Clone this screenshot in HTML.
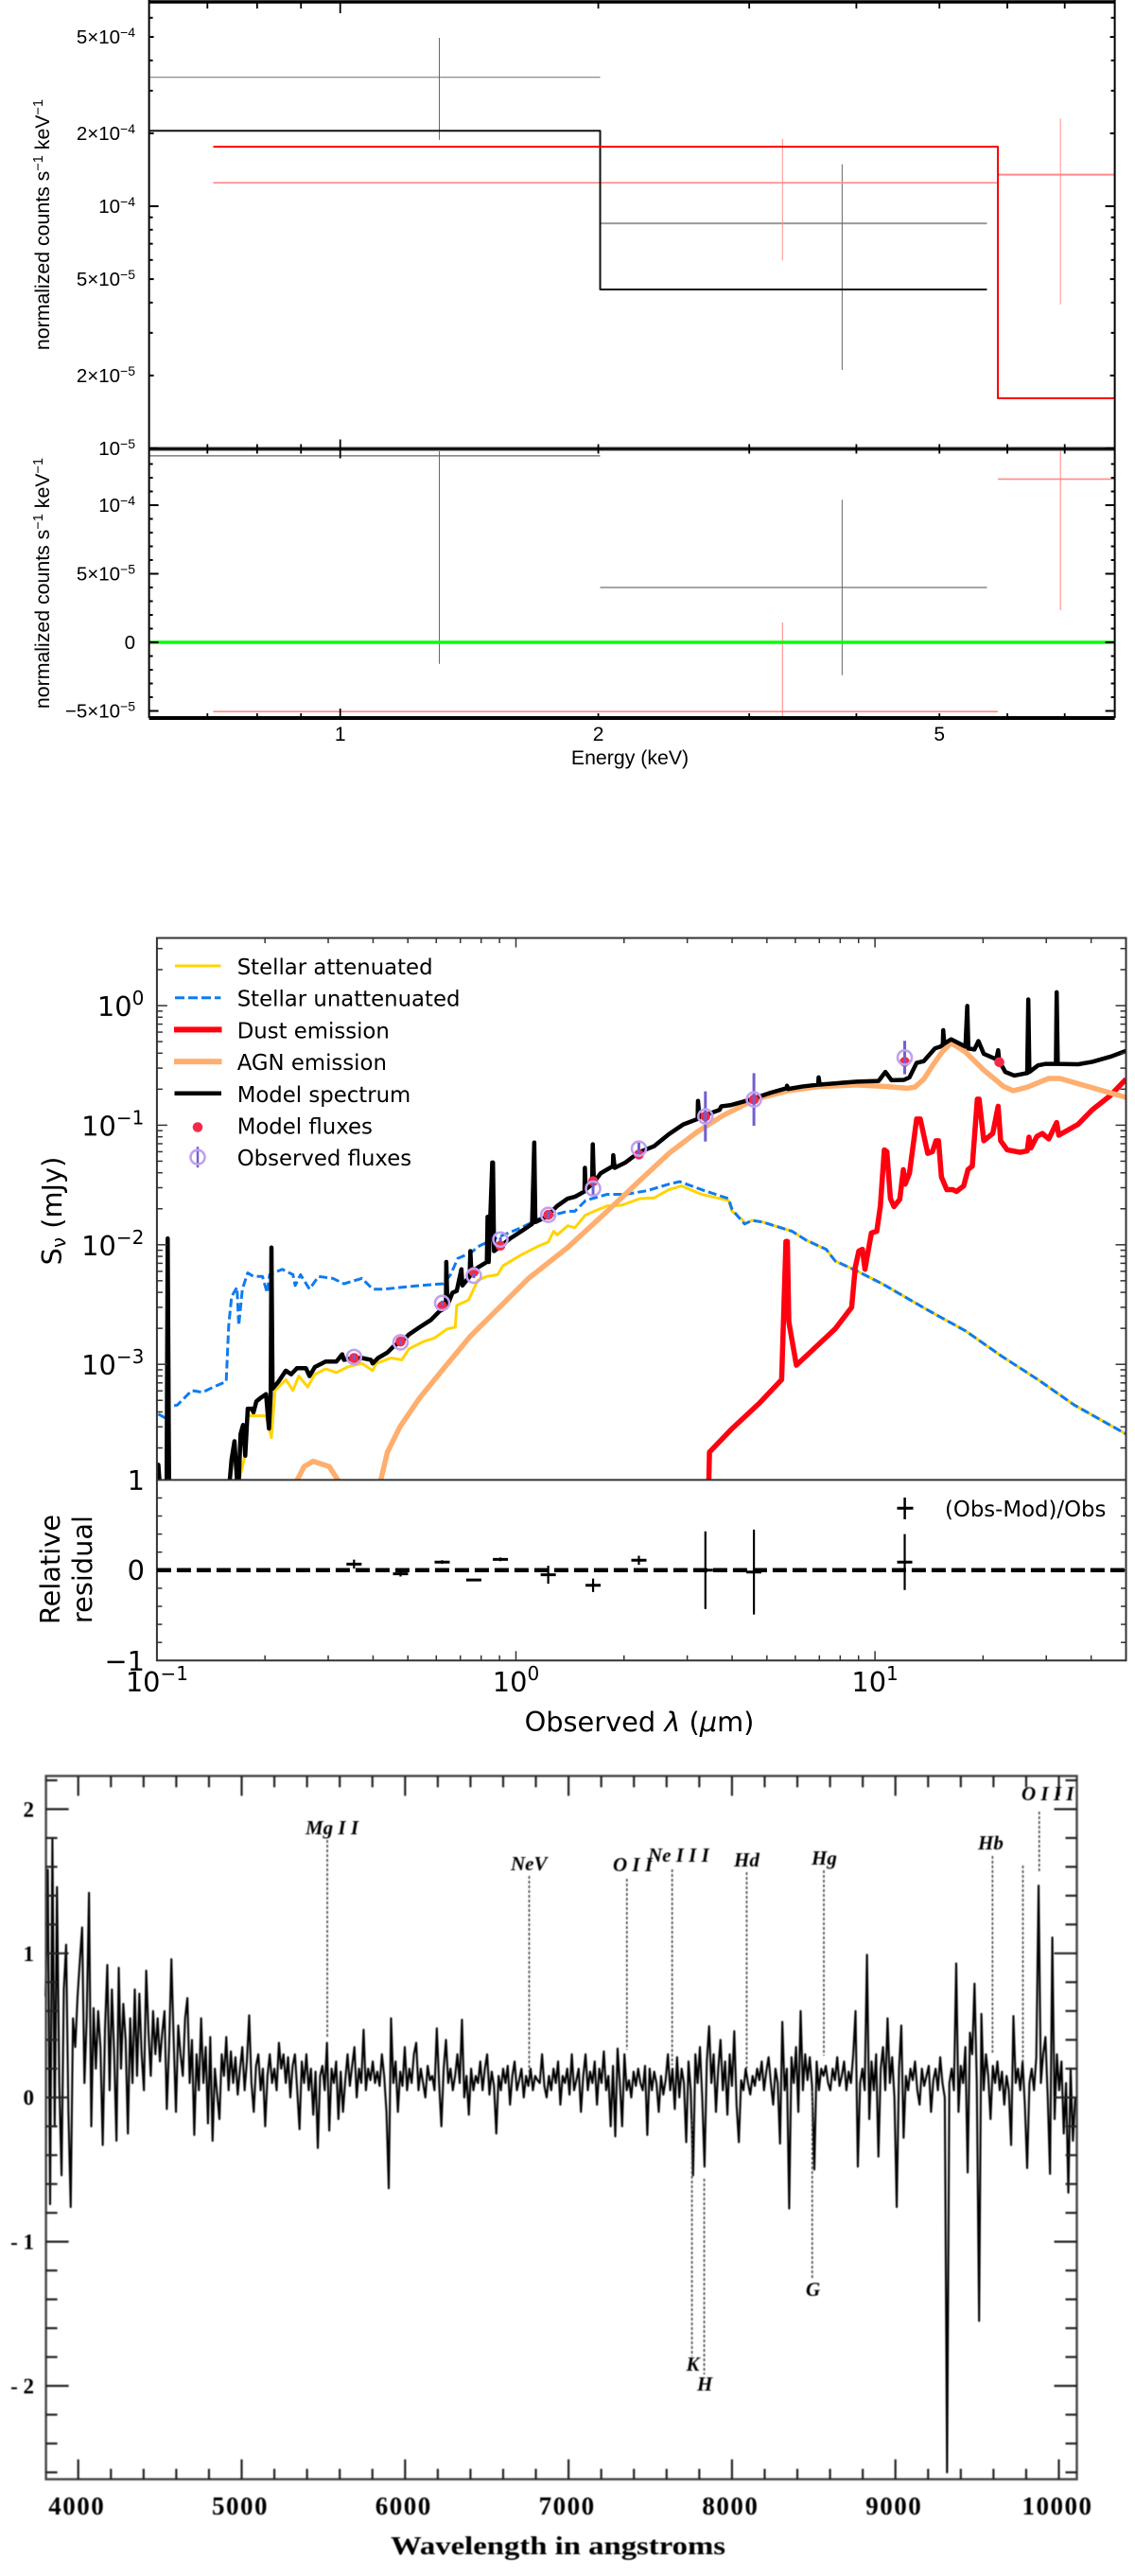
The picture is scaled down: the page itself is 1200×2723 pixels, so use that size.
<!DOCTYPE html>
<html lang="en">
<head>
<meta charset="utf-8">
<title>X-ray, SED and optical spectra</title>
<style>
html,body{margin:0;padding:0;background:#fff;}
svg{display:block;}
#opt{filter:blur(0.45px);}
</style>
</head>
<body>
<svg id="fig" xmlns="http://www.w3.org/2000/svg" width="1200" height="2723" viewBox="0 0 1200 2723">
  <defs>
    <clipPath id="clipXrayTop"><rect x="157.6" y="2" width="1021" height="472.5"/></clipPath>
    <clipPath id="clipXrayBottom"><rect x="157.6" y="474.5" width="1021" height="284.5"/></clipPath>
    <clipPath id="clipSed"><rect x="165.9" y="991.5" width="1024.6" height="572.9"/></clipPath>
    <clipPath id="clipResid"><rect x="165.9" y="1564.4" width="1024.6" height="190.9"/></clipPath>
  </defs>
  <rect x="0" y="0" width="1200" height="2723" fill="#fff"/>
  <g id="xray"></g>
  <g id="sed"></g>
  <g id="opt"></g>
</svg>
<script>
/* ---------- X-ray chart data ---------- */
const xrayMajorTopTicks = [1e-5, 1e-4];
const xrayLabelledTicks = [5e-4, 2e-4, 1e-4, 5e-5, 2e-5, 1e-5];
const xrayLabelledText = [["5×10","−4"],["2×10","−4"],["10","−4"],["5×10","−5"],["2×10","−5"],["10","−5"]];
const xrayMinorTicks = [6e-4, 4e-4, 3e-4, 9e-5, 8e-5, 7e-5, 6e-5, 4e-5, 3e-5];
const energyTicks = [0.7, 0.8, 0.9, 1, 2, 3, 4, 5, 6, 7];
const energyLabels = [1, 2, 5];
const blackBinLo = [0.6, 2.01];
const blackBinHi = [2.01, 5.68];
const blackCentre = [1.305, 3.85];
const blackRate = [3.41e-4, 8.5e-5];
const blackErrLo = [1.88e-4, 2.11e-5];
const blackErrHi = [4.96e-4, 1.49e-4];
const blackModel = [2.05e-4, 4.53e-5];
const redBinLo = [0.711, 5.85];
const redBinHi = [5.85, 8];
const redCentre = [3.28, 6.92];
const redRate = [1.25e-4, 1.35e-4];
const redErrLo = [5.97e-5, 3.93e-5];
const redErrHi = [1.9e-4, 2.3e-4];
const redModel = [1.76e-4, 1.61e-5];
const blackResid = [1.36e-4, 4e-5];
const blackResidLo = [-1.57e-5, -2.4e-5];
const blackResidHi = [2.9e-4, 1.04e-4];
const redResid = [-5.05e-5, 1.19e-4];
const redResidLo = [-1.15e-4, 2.35e-5];
const redResidHi = [1.45e-5, 2.1e-4];
const residMajorTicks = [1e-4, 5e-5, 0, -5e-5];
const residLabels = [["10","−4"],["5×10","−5"],["0",""],["−5×10","−5"]];
const residMinorTicks = [1.3e-4,1.2e-4,1.1e-4,9e-5,8e-5,7e-5,6e-5,4e-5,3e-5,2e-5,1e-5,-1e-5,-2e-5,-3e-5,-4e-5];

/* ---------- SED chart data (log10 wavelength in um, log10 flux in mJy) ---------- */
const modelLogWave = [-1.1,-0.996,-0.99,-0.973,-0.970,-0.966,-0.80,-.797,-.792,-.784,-.777,-.772,-.767,-.760,-.754,-.747,-.736,-.731,-.723,-.711,-.696,-.688,-.683,-.681,-.678,-.661,-.641,-.626,-.610,-.585,-.575,-.560,-.530,-.500,-.484,-.479,-.449,-.429,-.404,-.399,-.384,-.358,-.338,-.318,-.298,-.268,-.237,-.212,-.202,-.195,-.194,-.191,-.177,-.165,-.152,-.149,-.129,-.127,-.124,-.106,-.081,-.079,-.076,-.066,-.064,-.061,-.041,-.016,.015,.045,.051,.054,.085,.115,.144,.164,.191,.192,.194,.212,.214,.217,.236,.270,.271,.275,.305,.343,.385,.426,.466,.506,.507,.511,.567,.572,.597,.648,.708,.754,.755,.758,.799,.842,.843,.846,.910,.950,1.010,1.029,1.046,1.081,1.096,1.116,1.136,1.167,1.182,1.189,1.190,1.193,1.212,1.252,1.257,1.260,1.277,1.288,1.303,1.338,1.343,1.346,1.363,1.388,1.424,1.427,1.430,1.454,1.474,1.504,1.506,1.509,1.565,1.605,1.656,1.699];
const modelLogFlux = [-4.1,-3.84,-4.1,-4.1,-1.947,-4.1,-4.1,-3.967,-3.794,-3.643,-3.967,-3.976,-3.583,-3.507,-3.764,-3.371,-3.371,-3.401,-3.310,-3.280,-3.249,-3.537,-3.249,-2.023,-3.204,-3.143,-3.053,-3.083,-3.032,-3.032,-3.098,-3.022,-2.977,-2.977,-2.916,-2.962,-2.947,-2.947,-2.962,-2.992,-2.947,-2.901,-2.841,-2.810,-2.750,-2.689,-2.629,-2.553,-2.538,-2.508,-2.144,-2.508,-2.402,-2.386,-2.205,-2.341,-2.265,-2.053,-2.235,-2.190,-2.144,-1.766,-2.144,-1.312,-1.312,-2.053,-2.008,-1.947,-1.887,-1.826,-1.145,-1.811,-1.766,-1.675,-1.614,-1.599,-1.554,-1.357,-1.539,-1.493,-1.160,-1.478,-1.402,-1.342,-1.251,-1.357,-1.312,-1.227,-1.175,-1.075,-.994,-.948,-.797,-.933,-.872,-.842,-.833,-.791,-.730,-.691,-.670,-.697,-.676,-.661,-.600,-.661,-.645,-.636,-.630,-.555,-.624,-.621,-.600,-.479,-.464,-.358,-.343,-.328,-.206,-.318,-.282,-.343,-.003,-.358,-.367,-.297,-.403,-.449,-.373,-.464,-.555,-.585,-.564,.051,-.555,-.500,-.488,-.488,.112,-.488,-.491,-.470,-.427,-.379];
const attenLogWave = [-.797,-.782,-.770,-.757,-.747,-.696,-.681,-.671,-.641,-.621,-.605,-.580,-.560,-.530,-.500,-.469,-.429,-.399,-.389,-.348,-.318,-.298,-.258,-.227,-.192,-.169,-.165,-.132,-.106,-.081,-.051,-.036,.015,.065,.090,.105,.115,.144,.164,.194,.254,.295,.345,.385,.426,.461,.517,.592,.602,.632,.637,.658,.688,.769,.809,.864,.889,.950,1.020,1.151,1.252,1.353,1.454,1.555,1.699];
const attenLogFlux = [-3.967,-3.703,-3.961,-3.795,-3.431,-3.431,-3.613,-3.219,-3.128,-3.219,-3.098,-3.189,-3.083,-3.038,-3.068,-3.022,-2.992,-3.053,-2.992,-2.947,-2.962,-2.871,-2.810,-2.780,-2.705,-2.689,-2.508,-2.462,-2.296,-2.265,-2.250,-2.175,-2.084,-2.008,-1.978,-1.887,-1.917,-1.841,-1.857,-1.750,-1.675,-1.669,-1.614,-1.608,-1.539,-1.508,-1.578,-1.630,-1.720,-1.796,-1.826,-1.796,-1.811,-1.887,-1.963,-2.038,-2.135,-2.220,-2.326,-2.553,-2.720,-2.932,-3.128,-3.340,-3.582];
const unattenLogWave = [-.996,-.978,-.968,-.943,-.923,-.903,-.873,-.842,-.807,-.800,-.792,-.777,-.772,-.762,-.747,-.731,-.706,-.693,-.686,-.651,-.621,-.615,-.600,-.575,-.550,-.510,-.479,-.429,-.399,-.368,-.318,-.268,-.202,-.182,-.162,-.127,-.101,-.046,.015,.065,.144,.164,.194,.254,.305,.365,.426,.456,.517,.592,.602,.632,.637,.658,.688,.769,.809,.864,.889,.950,1.020,1.151,1.252,1.353,1.454,1.555,1.699];
const unattenLogFlux = [-3.416,-3.446,-3.356,-3.340,-3.280,-3.219,-3.234,-3.189,-3.144,-2.674,-2.432,-2.356,-2.674,-2.371,-2.235,-2.265,-2.265,-2.402,-2.250,-2.205,-2.250,-2.341,-2.250,-2.371,-2.265,-2.281,-2.326,-2.281,-2.371,-2.371,-2.356,-2.341,-2.326,-2.250,-2.114,-2.069,-2.008,-1.932,-1.857,-1.781,-1.720,-1.720,-1.630,-1.578,-1.578,-1.548,-1.493,-1.472,-1.539,-1.614,-1.705,-1.811,-1.826,-1.796,-1.811,-1.887,-1.963,-2.038,-2.135,-2.220,-2.326,-2.553,-2.720,-2.932,-3.128,-3.340,-3.582];
const dustLogWave = [.537,.539,.602,.678,.740,.752,.756,.760,.781,.889,.935,.945,.955,.965,.972,.990,1.005,1.015,1.026,1.033,1.043,1.053,1.069,1.079,1.084,1.096,1.116,1.126,1.147,1.160,1.170,1.177,1.185,1.200,1.217,1.227,1.247,1.259,1.271,1.285,1.290,1.303,1.328,1.343,1.350,1.368,1.404,1.424,1.429,1.434,1.451,1.466,1.484,1.506,1.512,1.565,1.605,1.656,1.699];
const dustLogFlux = [-4.0,-3.734,-3.537,-3.325,-3.128,-1.972,-1.972,-2.644,-3.007,-2.704,-2.523,-2.190,-2.053,-2.038,-2.205,-1.902,-1.887,-1.675,-1.206,-1.221,-1.614,-1.681,-1.620,-1.372,-1.493,-1.402,-.948,-.948,-1.236,-1.221,-1.130,-1.130,-1.433,-1.539,-1.539,-1.554,-1.508,-1.372,-1.342,-.782,-.782,-1.130,-1.069,-.842,-1.130,-1.206,-1.227,-1.215,-1.100,-1.191,-1.094,-1.069,-1.115,-.978,-1.084,-.994,-.872,-.751,-.615];
const agnLogWave = [-.615,-.590,-.565,-.520,-.489,-.379,-.358,-.323,-.268,-.202,-.127,-.046,.035,.144,.254,.345,.426,.506,.577,.668,.758,.849,.950,1.031,1.091,1.111,1.136,1.162,1.187,1.212,1.252,1.303,1.358,1.385,1.424,1.484,1.515,1.575,1.699];
const agnLogFlux = [-4.0,-3.855,-3.810,-3.855,-4.0,-4.0,-3.734,-3.522,-3.280,-3.037,-2.765,-2.523,-2.281,-2.023,-1.720,-1.463,-1.236,-1.054,-.918,-.782,-.712,-.676,-.664,-.676,-.691,-.682,-.615,-.494,-.388,-.312,-.388,-.539,-.676,-.712,-.682,-.609,-.609,-.661,-.767];
const filterWave = [0.354,0.477,0.623,0.763,0.905,1.23,1.64,2.2,3.37,4.6,12.1,22.2];
const modelFluxLog = [-2.947,-2.810,-2.514,-2.226,-2.008,-1.750,-1.469,-1.245,-.927,-.785,-.470,-.473];
const obsFluxLog = [-2.938,-2.816,-2.487,-2.259,-1.956,-1.750,-1.530,-1.196,-.927,-.785,-.434];
const obsErrLog = [.02,.02,.02,.02,.02,.03,.06,.06,.21,.22,.14];
const residValues = [0.067,-0.04,0.09,-0.108,0.12,-0.05,-0.167,0.11,0,-0.02,0.09];
const residErrors = [0.05,0.03,0.02,0.01,0.02,0.1,0.075,0.05,0.43,0.47,0.31];
const sedDecades = [0,-1,-2,-3];
const sedLegendNames = ["Stellar attenuated","Stellar unattenuated","Dust emission","AGN emission","Model spectrum","Model fluxes","Observed fluxes"];

/* ---------- Optical spectrum data ---------- */
const specStart = 3800;
const specStep = 14;
const specFlux = [
.7,1.58,-.74,1.8,-.2,1.46,.1,-.54,.75,1.06,-.1,-.76,.55,.35,.7,.95,1.18,.1,.55,1.42,
-.2,.62,.2,.6,.35,-.33,.48,.92,.05,.75,.3,-.3,.9,.2,.65,.4,-.25,.55,.1,.75,
.15,.72,.3,.05,.88,.45,.15,.6,.3,.55,.25,.45,.6,-.08,.35,.96,.4,-.1,.5,.3,
.15,.55,.69,.1,.4,-.26,.3,.05,.55,.1,.35,-.18,.42,-.3,.2,.02,-.15,.3,.15,.42,
.05,.32,.1,.28,.02,.2,.35,.05,.25,.57,.1,-.1,.22,.3,.05,.2,-.2,.15,.3,.1,
.2,.05,.38,.2,.3,.1,.28,0,.22,.3,.05,-.22,.25,.1,.3,.05,.2,-.12,.18,-.35,
.15,.22,.05,.38,-.23,.2,.1,.25,-.15,.18,-.1,.12,.3,.08,.22,.35,0,.2,.1,.47,
.05,.2,.12,.25,.1,.18,.08,.3,.15,-.1,-.63,.55,.1,.25,-.1,.18,.08,.35,.05,.2,
.1,.3,.38,.05,.2,.1,0,.22,.12,.15,.05,.48,.1,-.2,.2,.4,.1,.2,.05,.15,
.3,.1,.54,0,.15,-.12,.2,.05,.15,.1,.25,.05,.2,.3,.02,.18,.08,-.25,.15,.05,
.2,.1,.22,-.05,.15,.25,.05,.12,.2,0,.15,.08,.2,.05,.15,.12,.1,.3,.08,0,
.15,.05,.2,.1,.25,-.05,.15,.1,.2,.02,.3,.05,.12,.2,-.1,.15,.3,.05,.18,.1,
.25,-.05,.2,.1,.32,.05,.15,-.2,.22,-.27,.34,.1,-.2,.3,.05,.12,0,.18,.08,.2,
.1,.05,.22,-.26,.2,.05,.18,.1,-.1,.15,.02,.12,.3,.05,.2,-.08,.28,0,.2,.1,
-.31,.25,.05,-.54,.3,.1,.35,0,-.48,.25,.495,.1,.3,-.1,.2,.4,.05,.25,-.12,.3,
.08,.46,-.05,-.31,.12,.05,.2,.1,.02,.15,.08,.2,.12,.25,.05,.18,.28,.1,-.05,.2,
.1,-.32,.525,.05,.2,-.77,.28,.1,.35,-.1,.6,.05,.3,.12,.28,.08,-.5,.25,.05,.2,
.15,.22,.1,.05,.2,.12,.28,.08,.15,.25,.05,.18,.1,.3,.6,-.48,.1,.2,.05,.99,
-.15,.25,.05,.3,-.41,.2,.35,.05,.55,.1,.28,0,-.76,.2,.5,-.28,.15,.05,.2,.12,
.25,.05,-.05,.2,.08,.15,.22,-.1,.12,.2,.05,.28,.1,0,-2.6,.1,.2,.05,.93,-.1,
.22,.1,.35,-.52,.45,.3,.79,.1,-1.55,.58,.05,.3,.15,-.15,.22,.1,.25,.05,.18,-.05,
.15,.05,-.33,.565,.1,.2,.05,.25,-.05,-.49,.1,.2,.05,.28,1.47,.1,.3,.42,0,-.53,
1.11,-.15,.3,.05,.25,-.25,.1,-.66,.2,-.3,0];
const optXMajor = [4000,5000,6000,7000,8000,9000,10000];
const optXMinor = [4200,4400,4600,4800,5200,5400,5600,5800,6200,6400,6600,6800,7200,7400,7600,7800,8200,8400,8600,8800,9200,9400,9600,9800];
const optYMajor = [2,1,0,-1,-2];
const optYMinor = [2.2,1.8,1.6,1.4,1.2,.8,.6,.4,.2,-.2,-.4,-.6,-.8,-1.2,-1.4,-1.6,-1.8,-2.2,-2.4,-2.6];
const lineNames = ["Mg II","Ne V","O II","Ne III","Hd","Hg","Hb","","O III","G","K","H"];
const lineWave = [5524,6759,7357,7634,8090,8562,9594,9780,9880,8491,7755,7830];
const lineTop = [1.786,1.537,1.517,1.583,1.563,1.576,1.675,1.609,1.983,.047,-.15,-.563];
const lineBottom = [.419,.159,.331,.224,.2,.29,.31,.244,1.563,-1.265,-1.795,-1.921];

/* ---------- drawing helpers ---------- */
const NS = "http://www.w3.org/2000/svg";
function seg(g, x1, y1, x2, y2, stroke, w, name, dash) {
  const el = document.createElementNS(NS, "line");
  el.setAttribute("x1", x1); el.setAttribute("y1", y1);
  el.setAttribute("x2", x2); el.setAttribute("y2", y2);
  el.setAttribute("stroke", stroke); el.setAttribute("stroke-width", w);
  if (dash) el.setAttribute("stroke-dasharray", dash);
  
  
  g.appendChild(el);
  return el;
}
function poly(g, xs, ys, stroke, w, name, dash, clip) {
  const el = document.createElementNS(NS, "polyline");
  el.setAttribute("points", xs.map((x, i) => x.toFixed(2) + "," + ys[i].toFixed(2)).join(" "));
  el.setAttribute("fill", "none");
  el.setAttribute("stroke", stroke); el.setAttribute("stroke-width", w);
  el.setAttribute("stroke-linejoin", "round");
  if (dash) el.setAttribute("stroke-dasharray", dash);
  if (clip) el.setAttribute("clip-path", "url(#" + clip + ")");
  
  
  g.appendChild(el);
  return el;
}
function txt(g, x, y, str, o, name, sup) {
  const el = document.createElementNS(NS, "text");
  el.setAttribute("x", x); el.setAttribute("y", y);
  el.setAttribute("font-family", o.family);
  el.setAttribute("font-size", o.size);
  el.setAttribute("fill", o.fill || "#000");
  el.setAttribute("text-anchor", o.anchor || "middle");
  if (o.weight) el.setAttribute("font-weight", o.weight);
  if (o.fstyle) el.setAttribute("font-style", o.fstyle);
  if (o.rotate) el.setAttribute("transform", "rotate(-90 " + x + " " + y + ")");
  if (o.spacing) el.setAttribute("letter-spacing", o.spacing);
  if (o.fit) { el.setAttribute("textLength", o.fit); el.setAttribute("lengthAdjust", "spacingAndGlyphs"); }
  el.appendChild(document.createTextNode(str));
  if (sup) {
    const t = document.createElementNS(NS, "tspan");
    t.setAttribute("font-size", o.supSize);
    t.setAttribute("dy", o.supDy);
    t.textContent = sup;
    el.appendChild(t);
  }
  
  
  g.appendChild(el);
  return el;
}
function dot(g, x, y, r, fill, stroke, w, name) {
  const el = document.createElementNS(NS, "circle");
  el.setAttribute("cx", x); el.setAttribute("cy", y); el.setAttribute("r", r);
  el.setAttribute("fill", fill);
  if (stroke) { el.setAttribute("stroke", stroke); el.setAttribute("stroke-width", w); }
  
  
  g.appendChild(el);
  return el;
}

/* ---------- X-ray panel ---------- */
(function () {
  const g = document.getElementById("xray");
  const L = 157.6, R = 1178.6, T = 2, M = 474.5, B = 759;
  const xE = e => 359.7 + 906.4 * Math.log10(e);
  const yT = v => 218 - 256 * Math.log10(v / 1e-4);
  const yB = v => 679 - 1.45e6 * v;
  const SANS = '"Liberation Sans", sans-serif';
  const TICK = {family: SANS, size: 20.5, anchor: "end", supSize: 14, supDy: -7};

  const gTop = document.createElementNS(NS, "g");
  gTop.setAttribute("clip-path", "url(#clipXrayTop)");
  
  
  g.appendChild(gTop);
  const gBot = document.createElementNS(NS, "g");
  gBot.setAttribute("clip-path", "url(#clipXrayBottom)");
  
  
  g.appendChild(gBot);

  blackRate.forEach((v, i) => {
    seg(gTop, xE(blackBinLo[i]), yT(v), xE(blackBinHi[i]), yT(v), "#999", i ? 2 : 1.6, "black-data-bin");
    seg(gTop, xE(blackCentre[i]), yT(blackErrLo[i]), xE(blackCentre[i]), yT(blackErrHi[i]), "#666", 1, "black-data-error");
    seg(gBot, xE(blackBinLo[i]), yB(blackResid[i]), xE(blackBinHi[i]), yB(blackResid[i]), "#888", 1.6, "black-residual-bin");
    seg(gBot, xE(blackCentre[i]), yB(blackResidLo[i]), xE(blackCentre[i]), yB(blackResidHi[i]), "#666", 1, "black-residual-error");
  });
  redRate.forEach((v, i) => {
    seg(gTop, xE(redBinLo[i]), yT(v), xE(redBinHi[i]), yT(v), "#ff8a8a", i ? 2 : 1.6, "red-data-bin");
    seg(gTop, xE(redCentre[i]), yT(redErrLo[i]), xE(redCentre[i]), yT(redErrHi[i]), "#ff9090", 1, "red-data-error");
    seg(gBot, xE(redBinLo[i]), yB(redResid[i]), xE(redBinHi[i]), yB(redResid[i]), "#ff8a8a", 1.6, "red-residual-bin");
    seg(gBot, xE(redCentre[i]), yB(redResidLo[i]), xE(redCentre[i]), yB(redResidHi[i]), "#ff8080", 1, "red-residual-error");
  });
  poly(gTop, [xE(blackBinLo[0]), xE(blackBinHi[0]), xE(blackBinHi[0]), xE(blackBinHi[1])],
       [yT(blackModel[0]), yT(blackModel[0]), yT(blackModel[1]), yT(blackModel[1])], "#111", 2, "black-model-step");
  poly(gTop, [xE(redBinLo[0]), xE(redBinHi[0]), xE(redBinHi[0]), xE(redBinHi[1])],
       [yT(redModel[0]), yT(redModel[0]), yT(redModel[1]), yT(redModel[1])], "#ff0000", 2, "red-model-step");
  seg(gBot, L, yB(0), R, yB(0), "#00ff00", 3.5, "zero-line");

  /* frame */
  seg(g, L, T, R, T, "#000", 3.5, "xray-top-border");
  seg(g, L, M, R, M, "#999", 5, "xray-divider-halo");
  seg(g, L, M, R, M, "#000", 2.5, "xray-divider");
  seg(g, L, B, R, B, "#000", 4, "xray-bottom-border");
  seg(g, L, 0, L, B, "#000", 2, "xray-left-border");
  seg(g, R, 0, R, B, "#000", 2, "xray-right-border");

  /* x ticks */
  energyTicks.forEach(e => {
    const len = e === 1 ? 10 : 5, x = xE(e);
    seg(g, x, T, x, T + len + 2, "#000", 1.8, "energy-tick-top");
    seg(g, x, M, x, M - len, "#000", 1.8, "energy-tick-mid-up");
    seg(g, x, M, x, M + len, "#000", 1.8, "energy-tick-mid-down");
    seg(g, x, B, x, B - len, "#000", 1.8, "energy-tick-bottom");
  });
  energyLabels.forEach(e => {
    txt(g, xE(e), 783, String(e), {family: SANS, size: 21}, "energy-tick-label");
  });
  txt(g, 666, 808, "Energy (keV)", {family: SANS, size: 21.3}, "x-axis-title");

  /* upper y ticks */
  xrayLabelledTicks.forEach((v, i) => {
    const y = yT(v), len = xrayMajorTopTicks.includes(v) ? 10 : 5;
    seg(g, L, y, L + len, y, "#000", 2, "upper-y-tick");
    seg(g, R, y, R - len, y, "#000", 2, "upper-y-tick-right");
    txt(g, 143, y + 7, xrayLabelledText[i][0], TICK, "upper-y-tick-label", xrayLabelledText[i][1]);
  });
  xrayMinorTicks.forEach(v => {
    const y = yT(v);
    seg(g, L, y, L + 4, y, "#000", 2, "upper-y-minor-tick");
    seg(g, R, y, R - 4, y, "#000", 2, "upper-y-minor-tick-right");
  });
  /* lower y ticks */
  residMajorTicks.forEach((v, i) => {
    const y = yB(v);
    seg(g, L, y, L + 10, y, "#000", 2, "lower-y-tick");
    seg(g, R, y, R - 10, y, "#000", 2, "lower-y-tick-right");
    txt(g, 143, y + 7, residLabels[i][0], TICK, "lower-y-tick-label", residLabels[i][1]);
  });
  residMinorTicks.forEach(v => {
    const y = yB(v);
    seg(g, L, y, L + 4, y, "#000", 2, "lower-y-minor-tick");
    seg(g, R, y, R - 4, y, "#000", 2, "lower-y-minor-tick-right");
  });

  /* y titles */
  [237.5, 616.5].forEach((yc, i) => {
    const t = txt(g, 52, yc, "normalized counts s", {family: SANS, size: 21.3, rotate: true}, i ? "lower-y-axis-title" : "upper-y-axis-title");
    const a = document.createElementNS(NS, "tspan");
    a.setAttribute("font-size", 14.5); a.setAttribute("dy", -7); a.textContent = "−1";
    t.appendChild(a);
    const b = document.createElementNS(NS, "tspan");
    b.setAttribute("dy", 7); b.textContent = " keV";
    t.appendChild(b);
    const c = document.createElementNS(NS, "tspan");
    c.setAttribute("font-size", 14.5); c.setAttribute("dy", -7); c.textContent = "−1";
    t.appendChild(c);
  });
})();

/* ---------- SED panel ---------- */
(function () {
  const g = document.getElementById("sed");
  const L = 165.9, R = 1190.5, T = 991.5, M = 1564.4, B = 1755.3;
  const xL = l => 165.9 + 379.6 * (l + 1);
  const xW = w => xL(Math.log10(w));
  const yS = s => 1063 - 126.4 * s;
  const yR = v => 1659.8 - 95.45 * v;
  const DJ = '"DejaVu Sans", sans-serif';
  const COL = {yellow: "#ffd400", blue: "#0f7bf0", red: "#ff0010", orange: "#ffae6e", black: "#000"};

  poly(g, attenLogWave.map(xL), attenLogFlux.map(yS), COL.yellow, 3, "stellar-attenuated-line", null, "clipSed");
  poly(g, unattenLogWave.map(xL), unattenLogFlux.map(yS), COL.blue, 3, "stellar-unattenuated-line", "9 4", "clipSed");
  poly(g, dustLogWave.map(xL), dustLogFlux.map(yS), COL.red, 5.5, "dust-emission-line", null, "clipSed");
  poly(g, agnLogWave.map(xL), agnLogFlux.map(yS), COL.orange, 5.5, "agn-emission-line", null, "clipSed");
  poly(g, modelLogWave.map(xL), modelLogFlux.map(yS), COL.black, 4.5, "model-spectrum-line", null, "clipSed");

  modelFluxLog.forEach((s, i) => {
    dot(g, xW(filterWave[i]), yS(s), 5.3, "#f52a4a", null, 0, "model-flux-point");
  });
  obsFluxLog.forEach((s, i) => {
    const x = xW(filterWave[i]);
    seg(g, x, yS(s + obsErrLog[i]), x, yS(s - obsErrLog[i]), "#7060d0", 3, "observed-flux-error");
    dot(g, x, yS(s), 7.5, "none", "#c0a0f0", 2.6, "observed-flux-point");
  });

  /* frames */
  const frame = document.createElementNS(NS, "path");
  frame.setAttribute("d", `M${L} ${T}H${R}V${B}H${L}Z M${L} ${M}H${R}`);
  frame.setAttribute("fill", "none");
  frame.setAttribute("stroke", "#333");
  frame.setAttribute("stroke-width", 2);
  
  
  g.appendChild(frame);

  /* x ticks */
  for (const dec of [-1, 0, 1]) {
    for (let m = 1; m < 10; m++) {
      const x = xL(dec + Math.log10(m));
      if (x > R) continue;
      const len = m === 1 ? 10 : 5.5;
      if (dec > -1 || m > 1) {
        seg(g, x, T, x, T + len, "#333", 1.5, "sed-x-tick-top");
        seg(g, x, B, x, B - len, "#333", 1.5, "sed-x-tick-bottom");
      }
    }
    txt(g, xL(dec), 1788, "10", {family: DJ, size: 28.8, supSize: 20, supDy: -12}, "sed-x-tick-label", dec === -1 ? "−1" : String(dec));
  }
  /* y ticks */
  for (let dec = -4; dec <= 0; dec++) {
    for (let m = 1; m < 10; m++) {
      const s = dec + Math.log10(m);
      const y = yS(s);
      if (y < T || y > M - 1) continue;
      const len = m === 1 ? 11 : 6;
      seg(g, L, y, L + len, y, "#333", 1.5, "sed-y-tick");
      seg(g, R, y, R - len, y, "#333", 1.5, "sed-y-tick-right");
    }
  }
  sedDecades.forEach(d => {
    txt(g, 152.3, yS(d) + 11, "10", {family: DJ, size: 28.8, anchor: "end", supSize: 20, supDy: -12}, "sed-y-tick-label", d === 0 ? "0" : "−" + (-d));
  });
  const LEFTP = {family: DJ, size: 28.8, anchor: "end"};
  txt(g, 153, 1575, "1", LEFTP, "residual-y-tick-label");
  txt(g, 153, 1670, "0", LEFTP, "residual-y-tick-label");
  txt(g, 153, 1766, "−1", LEFTP, "residual-y-tick-label");
  for (let k = -4; k <= 4; k++) {
    const y = yR(k * 0.2);
    const len = 5.5;
    seg(g, L, y, L + len, y, "#333", 1.5, "residual-y-tick");
    seg(g, R, y, R - len, y, "#333", 1.5, "residual-y-tick-right");
  }

  /* titles */
  const st = txt(g, 65, 1280, "S", {family: DJ, size: 28.8, rotate: true}, "sed-y-axis-title");
  const sub = document.createElementNS(NS, "tspan");
  sub.setAttribute("font-size", 20); sub.setAttribute("dy", 4); sub.textContent = "ν";
  st.appendChild(sub);
  const rest = document.createElementNS(NS, "tspan");
  rest.setAttribute("dy", -4); rest.textContent = " (mJy)";
  st.appendChild(rest);
  txt(g, 63, 1659, "Relative", {family: DJ, size: 28.8, rotate: true}, "residual-y-title-line-1");
  txt(g, 97, 1659, "residual", {family: DJ, size: 28.8, rotate: true}, "residual-y-title-line-2");
  const xt = txt(g, 676, 1830, "Observed ", {family: DJ, size: 28.8}, "sed-x-axis-title");
  const la = document.createElementNS(NS, "tspan");
  la.setAttribute("font-style", "italic"); la.textContent = "λ";
  xt.appendChild(la);
  xt.appendChild(document.createTextNode(" ("));
  const mu = document.createElementNS(NS, "tspan");
  mu.setAttribute("font-style", "italic"); mu.textContent = "μ";
  xt.appendChild(mu);
  xt.appendChild(document.createTextNode("m)"));

  /* legend */
  const ly = i => 1021 + 33.7 * i;
  const LEG = {family: DJ, size: 22.8, anchor: "start"};
  sedLegendNames.forEach((n, i) => {
    txt(g, 250.7, ly(i) + 9, n, LEG, "legend-label");
  });
  seg(g, 185, ly(0), 233.4, ly(0), COL.yellow, 3, "legend-key-attenuated");
  seg(g, 185, ly(1), 233.4, ly(1), COL.blue, 3, "legend-key-unattenuated", "10 4");
  seg(g, 184, ly(2), 234.5, ly(2), COL.red, 6, "legend-key-dust");
  seg(g, 184, ly(3), 234.5, ly(3), COL.orange, 6, "legend-key-agn");
  seg(g, 184.5, ly(4), 234, ly(4), COL.black, 4.5, "legend-key-model");
  dot(g, 209, ly(5) + 2, 5.3, "#f52a4a", null, 0, "legend-key-model-fluxes");
  seg(g, 209, ly(6) - 11, 209, ly(6) + 11, "#7060d0", 2.5, "legend-key-observed-error");
  dot(g, 209, ly(6), 7.5, "none", "#c0a0f0", 2.6, "legend-key-observed-fluxes");

  /* residuals */
  const gRes = document.createElementNS(NS, "g");
  gRes.setAttribute("clip-path", "url(#clipResid)");
  
  
  g.appendChild(gRes);
  seg(gRes, L, yR(0), R, yR(0), "#000", 4.5, "residual-zero-line", "15 6");
  residValues.forEach((v, i) => {
    const x = xW(filterWave[i]);
    seg(gRes, x, yR(v + residErrors[i]), x, yR(v - residErrors[i]), "#000", 2.2, "residual-error-bar");
    seg(gRes, x - 8, yR(v), x + 8, yR(v), "#000", 3, "residual-point");
  });
  seg(g, 956.6, 1583, 956.6, 1606, "#000", 2.5, "residual-legend-error");
  seg(g, 948.5, 1594.3, 965.5, 1594.3, "#000", 3, "residual-legend-point");
  txt(g, 999, 1603, "(Obs-Mod)/Obs", {family: DJ, size: 22.8, anchor: "start"}, "residual-legend-label");
})();

/* ---------- Optical spectrum panel ---------- */
(function () {
  const g = document.getElementById("opt");
  const L = 48.6, R = 1138.5, T = 1877.3, B = 2620.7;
  const xW = w => 82.7 + 0.1728 * (w - 4000);
  const yV = v => 2217.2 - 152.4 * v;
  const SER = '"Liberation Serif", serif';

  poly(g, specFlux.map((_, i) => xW(specStart + i * specStep)), specFlux.map(yV), "#000", 2.1, "spectrum-line");

  lineWave.forEach((w, i) => {
    seg(g, xW(w), yV(lineTop[i]), xW(w), yV(lineBottom[i]), "#444", 1.6, "line-marker-" + (lineNames[i] || "unlabelled").replace(/ /g, "").toLowerCase(), "3 2");
  });

  const frame = document.createElementNS(NS, "rect");
  frame.setAttribute("x", L); frame.setAttribute("y", T);
  frame.setAttribute("width", R - L); frame.setAttribute("height", B - T);
  frame.setAttribute("fill", "none");
  frame.setAttribute("stroke", "#444");
  frame.setAttribute("stroke-width", 2.4);
  
  
  g.appendChild(frame);

  optXMajor.forEach(w => {
    const x = xW(w);
    seg(g, x, T, x, T + 21, "#222", 2.2, "optical-x-major-top");
    seg(g, x, B, x, B - 21, "#222", 2.2, "optical-x-major-bottom");
    txt(g, x - 1.5, 2658, String(w), {family: SER, size: 27, weight: "bold", spacing: 1.5}, "optical-x-tick-label");
  });
  optXMinor.forEach(w => {
    const x = xW(w);
    seg(g, x, T, x, T + 12, "#222", 2.2, "optical-x-minor-top");
    seg(g, x, B, x, B - 11, "#222", 2.2, "optical-x-minor-bottom");
  });
  optYMajor.forEach(v => {
    const y = yV(v);
    seg(g, L, y, L + 24, y, "#222", 2.2, "optical-y-major");
    seg(g, R, y, R - 24, y, "#222", 2.2, "optical-y-major-right");
    txt(g, 36, y + 8, v < 0 ? "- " + (-v) : String(v), {family: SER, size: 23, weight: "bold", anchor: "end"}, "optical-y-tick-label");
  });
  optYMinor.forEach(v => {
    const y = yV(v);
    seg(g, L, y, L + 12, y, "#222", 2.2, "optical-y-minor");
    seg(g, R, y, R - 12, y, "#222", 2.2, "optical-y-minor-right");
  });

  txt(g, 590, 2700, "Wavelength in angstroms", {family: SER, size: 27, weight: "bold", fit: 354}, "optical-x-axis-title");

  const LAB = {family: SER, size: 21, weight: "bold", fstyle: "italic", anchor: "start"};
  const lblX = [323, 540, 648, 685, 776, 858, 1034, 0, 1080, 852, 725.5, 737];
  const lblY = [1939, 1977, 1978, 1968, 1973, 1971, 1955, 0, 1903, 2427, 2506, 2527];
  lineNames.forEach((n, i) => {
    if (!n) return;
    let label = n;
    if (/ I+$/.test(n)) label = n.replace(/ (I+)$/, (m, r) => " " + r.split("").join(" "));
    else label = n.replace(" ", "");
    txt(g, lblX[i], lblY[i], label, LAB, "line-label-" + n.replace(/ /g, "").toLowerCase());
  });
})();
</script>
</body>
</html>
